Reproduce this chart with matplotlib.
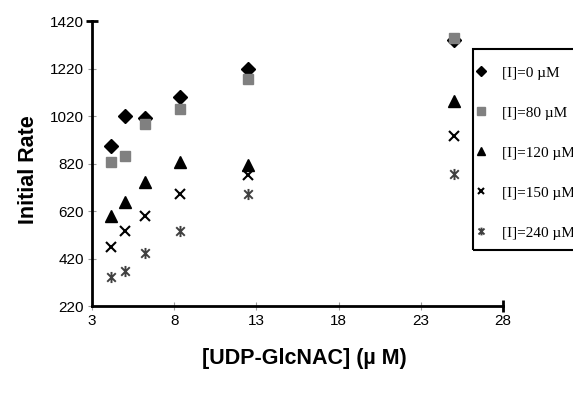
import matplotlib
matplotlib.use('Agg')
import matplotlib.pyplot as plt
from matplotlib.path import Path
from matplotlib.patches import Rectangle

# substrate concentrations [UDP-GlcNAc] (uM)
conc = [4.17, 5.0, 6.25, 8.33, 12.5, 25.0]

# initial rates for each inhibitor concentration
rate_0 = [892, 1020, 1012, 1100, 1218, 1340]
rate_80 = [826, 850, 988, 1050, 1177, 1350]
rate_120 = [600, 660, 744, 828, 815, 1082]
rate_150 = [470, 536, 601, 691, 773, 937]
rate_240 = [341, 369, 442, 536, 693, 777]

labels = ['[I]=0 \u00b5M', '[I]=80 \u00b5M', '[I]=120 \u00b5M', '[I]=150 \u00b5M', '[I]=240 \u00b5M']

xticks = [3, 8, 13, 18, 23, 28]
yticks = [220, 420, 620, 820, 1020, 1220, 1420]

# x with a vertical bar, like the old spreadsheet asterisk marker
star = Path([(-1, -1), (1, 1), (-1, 1), (1, -1), (0, -1.3), (0, 1.3)],
            [Path.MOVETO, Path.LINETO, Path.MOVETO, Path.LINETO, Path.MOVETO, Path.LINETO])

W, H = 573, 398
fig = plt.figure(figsize=(W / 100, H / 100), dpi=100)
ax = fig.add_axes([0.1606, 0.231, 0.7174, 0.716])

ax.plot(conc, rate_0, linestyle='none', marker='D', ms=7, color='black', label=labels[0])
ax.plot(conc, rate_80, linestyle='none', marker='s', ms=7.5, color='#808080', label=labels[1])
ax.plot(conc, rate_120, linestyle='none', marker='^', ms=8, color='black', label=labels[2])
ax.plot(conc, rate_150, linestyle='none', marker='x', ms=7, mew=1.5, color='black', label=labels[3])
ax.plot(conc, rate_240, linestyle='none', marker=star, ms=8, mew=1.4, color='#404040', label=labels[4])

ax.set_xlim(3, 28)
ax.set_ylim(220, 1420)
ax.set_xticks(xticks)
ax.set_yticks(yticks)

for s in ['top', 'right']:
    ax.spines[s].set_visible(False)
for s in ['left', 'bottom']:
    ax.spines[s].set_linewidth(2)

ax.tick_params(direction='inout', length=6, width=0.8, color='#999999', labelsize=11, pad=3)
for lab in ax.get_xticklabels() + ax.get_yticklabels():
    lab.set_fontfamily('Liberation Sans')

# dark end caps on the axes
ax.plot([1], [0], marker='|', ms=8, mew=2, color='black', transform=ax.transAxes, clip_on=False)
ax.plot([0], [1], marker='_', ms=8, mew=2, color='black', transform=ax.transAxes, clip_on=False)

fig.text(0.049, 0.575, 'Initial Rate', fontsize=15.5, fontweight='bold', family='Liberation Sans',
         rotation=90, ha='center', va='center')
fig.text(0.532, 0.10, '[UDP-GlcNAC] (\u00b5 M)', fontsize=15.5, fontweight='bold',
         family='Liberation Sans', ha='center', va='center')

# legend frame runs off the right edge, as in the original
frame = Rectangle((473 / W, 1 - 250 / H), 150 / W, 201 / H, transform=fig.transFigure,
                  fill=False, edgecolor='black', linewidth=1.5, clip_on=False)
fig.patches.append(frame)

leg = fig.legend(loc='upper left', bbox_to_anchor=(476 / W, 1 - 66 / H),
                 prop={'family': 'Liberation Serif', 'size': 11},
                 frameon=False, labelspacing=1.72, borderpad=0,
                 handlelength=0.6, handletextpad=1.1, borderaxespad=0, markerscale=0.7)

fig.savefig('out.png', dpi=100)
